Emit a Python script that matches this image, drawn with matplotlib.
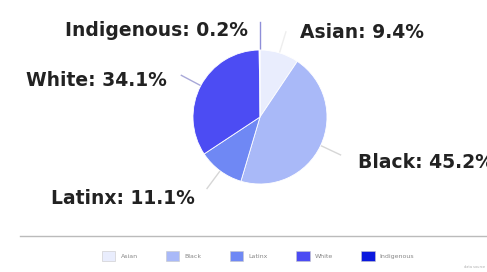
"""Pie chart of enrollment share by race/ethnicity."""

import numpy as np
import matplotlib.pyplot as plt
from matplotlib.lines import Line2D

plt.switch_backend("Agg")

groups = ["Asian", "Black", "Latinx", "White", "Indigenous"]
shares = [9.4, 45.2, 11.1, 34.1, 0.2]
colors = ["#e9edfd", "#a9b9f8", "#6f88f4", "#4c4cf3", "#0a18de"]

# label text positions (pixels, origin top-left) and alignment
label_pos = {
    "Asian": (300, 33, "left"),
    "Black": (358, 163, "left"),
    "Latinx": (195, 199, "right"),
    "White": (167, 80, "right"),
    "Indigenous": (248, 31, "right"),
}
leader_colors = {
    "Asian": "#eeeeee",
    "Black": "#d6d6d6",
    "Latinx": "#d6d6d6",
    "White": "#a8a8d8",
    "Indigenous": "#8f8fd8",
}

W, H = 487, 272
fig = plt.figure(figsize=(W / 100, H / 100), dpi=100)
ax = fig.add_axes([0, 0, 1, 1])

cx, cy, r = 260, H - 117, 67
wedges, _ = ax.pie(
    shares,
    colors=colors,
    startangle=90,
    counterclock=False,
    center=(cx, cy),
    radius=r,
    frame=True,
    wedgeprops={"edgecolor": "white", "linewidth": 0.6},
)
ax.set_xlim(0, W)
ax.set_ylim(0, H)
ax.set_aspect("equal")
ax.axis("off")

# labels with leader lines
angle = 90.0
for name, val in zip(groups, shares):
    span = val / 100 * 360
    mid = np.deg2rad(angle - span / 2)
    angle -= span
    ex, ey = cx + r * np.cos(mid), cy + r * np.sin(mid)
    tx, ty, ha = label_pos[name]
    ax.text(tx, H - ty, f"{name}: {val}%", ha=ha, va="center",
            fontsize=13.5, fontweight="heavy", color="#222222", clip_on=False)
    if name == "Indigenous":
        lx, ly = ex, H - 22
    else:
        lx = ex + 22 * np.cos(mid)
        ly = ey + 22 * np.sin(mid)
    ax.plot([ex, lx], [ey, ly], color=leader_colors[name], linewidth=1.0, zorder=0)

# separator above legend
fig.add_artist(Line2D([20 / W, 1], [1 - 236 / H, 1 - 236 / H],
                      color="#bbbbbb", linewidth=1.0))

handles = [plt.Rectangle((0, 0), 1, 1, facecolor=c, edgecolor="#c8c8c8", linewidth=0.4)
           for c in colors]
fig.legend(handles, groups, loc="center", bbox_to_anchor=(0.53, 1 - 256 / H),
           ncol=5, frameon=False, fontsize=4.5, handlelength=2.2, handleheight=2.0,
           columnspacing=4.5, handletextpad=0.8, labelcolor="#888888")

fig.text(0.995, 0.01, "data source", ha="right", va="bottom", fontsize=2.5, color="#aaaaaa")

fig.savefig("out.png", dpi=100)
